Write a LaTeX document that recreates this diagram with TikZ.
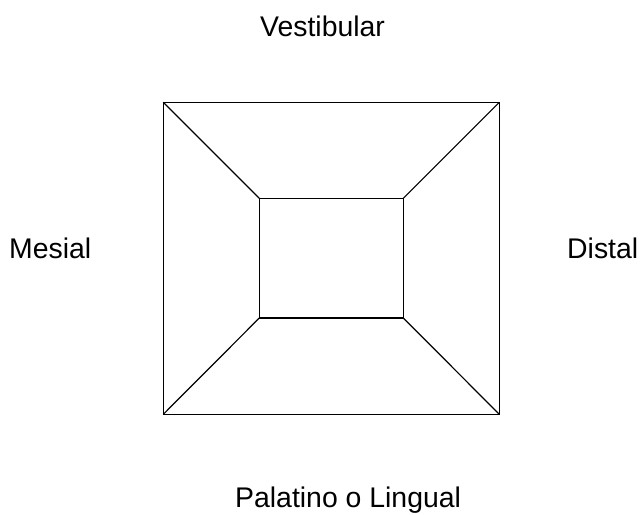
\documentclass[tikz,border=0pt]{standalone}
\usepackage{fontspec}
\setmainfont{Liberation Sans}
\begin{document}
\begin{tikzpicture}[x=1pt,y=-1pt,
  lbl/.style={anchor=base west,inner sep=0pt,font=\fontsize{28.4}{34}\selectfont},
  edge/.style={line width=1.2pt,line join=miter}]
\useasboundingbox (0,0) rectangle (644,514);
\coordinate (o1) at (163.3,102.3);
\coordinate (o2) at (499.3,102.3);
\coordinate (o3) at (499.3,414.3);
\coordinate (o4) at (163.3,414.3);
\coordinate (i1) at (259.3,198.3);
\coordinate (i2) at (403.3,198.3);
\coordinate (i3) at (403.3,318);
\coordinate (i4) at (259.3,318);
\draw[edge] (o1) -- (o2) -- (o3) -- (o4) -- cycle;
\draw[edge] (i1) -- (i2) -- (i3) -- (i4) -- cycle;
\draw[edge] (o1) -- (i1);
\draw[edge] (o2) -- (i2);
\draw[edge] (o3) -- (i3);
\draw[edge] (o4) -- (i4);
\node[lbl] (v) at (260,36.7) {Vestibular};
\node[lbl] (m) at (9,258.3) {Mesial};
\node[lbl] (d) at (567,258.3) {Distal};
\node[lbl] (p) at (235,507.5) {Palatino o Lingual};
\end{tikzpicture}
\end{document}
